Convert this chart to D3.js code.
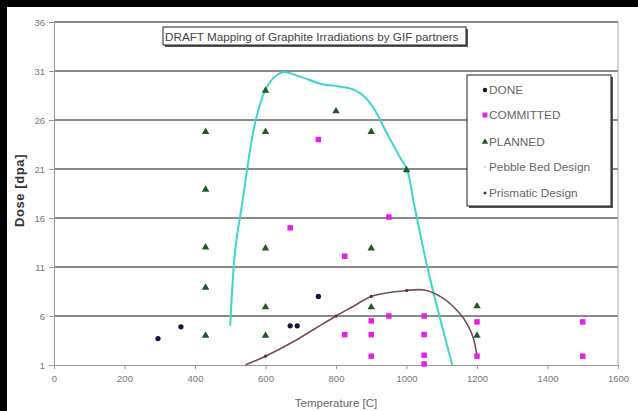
<!DOCTYPE html>
<html>
<head>
<meta charset="utf-8">
<script src="https://cdn.jsdelivr.net/npm/d3@7"></script>
<style>
    body { margin: 0; background: #fff; }
    text { font-family: "Liberation Sans", Arial, sans-serif; }
</style>
</head>
<body>
<div class="curr-graff"></div>
<script>
// Irradiation points, temperature [C] and dose [dpa]
const doneTemp = [295, 360, 670, 690, 750];
const doneDose = [3.7, 4.9, 5.0, 5.0, 8.0];

const committedTemp = [750, 670, 825, 950, 825, 900, 900, 900, 950, 1050, 1050, 1050, 1050, 1200, 1200, 1500, 1500];
const committedDose = [24, 15, 12.1, 16.1, 4.1, 5.5, 4.1, 1.9, 6, 6, 4.1, 2, 1.1, 5.4, 1.9, 5.4, 1.9];

const plannedTemp = [430, 430, 430, 430, 430, 600, 600, 600, 600, 600, 800, 900, 900, 900, 1000, 1200, 1200];
const plannedDose = [24.8, 18.9, 13, 8.9, 4, 29, 24.8, 12.9, 6.9, 4, 26.9, 24.8, 12.9, 6.9, 20.9, 7, 4];

// Design envelopes
const pebbleTemp = [500, 514, 533, 571, 600, 623, 651, 700, 756, 812, 850, 880, 907, 945, 983, 1002, 1021, 1059, 1087, 1130];
const pebbleDose = [5.0, 12.7, 17.3, 25.8, 29.1, 30.3, 30.9, 30.4, 29.7, 29.4, 29.1, 28.4, 27.2, 24.6, 22.1, 20.9, 17.5, 11.0, 6.9, 1.0];

const prismTemp = [543, 600, 680, 740, 800, 850, 900, 1000, 1050, 1100, 1150, 1175, 1190, 1200];
const prismDose = [1.0, 1.9, 3.4, 4.7, 6.0, 7.0, 8.0, 8.6, 8.65, 7.9, 6.3, 5.0, 3.7, 1.9];

// Axis ticks
const xTicks = [0, 200, 400, 600, 800, 1000, 1200, 1400, 1600];
const yTicks = [1, 6, 11, 16, 21, 26, 31, 36];

const legendNames = ["DONE", "COMMITTED", "PLANNED", "Pebble Bed Design", "Prismatic Design"];

const titleText = "DRAFT Mapping of Graphite Irradiations by GIF partners";

// Zips two arrays into a list of points
function MakePoints(arrX, arrY) {
    let out = [];
    for (let i = 0; i < arrX.length; i++) {
        out.push({ t: arrX[i], d: arrY[i] });
    }
    return out;
}

// Draws a white box with a dark drop shadow
function DrawShadowBox(svg, x, y, w, h) {
    svg.append("rect")
        .attr("x", x + 2).attr("y", y + 2)
        .attr("width", w).attr("height", h)
        .attr("fill", "#555");
    svg.append("rect")
        .attr("x", x).attr("y", y)
        .attr("width", w).attr("height", h)
        .attr("fill", "#fff")
        .attr("stroke", "#222")
        .attr("stroke-width", 1);
}

function DrawChart() {
    let width = 638;
    let height = 411;

    let svg = d3.select(".curr-graff")
        .append("svg")
        .attr("width", width)
        .attr("height", height);

    // Outer frame (black bands on top and left)
    svg.append("rect").attr("x", 0).attr("y", 0).attr("width", width).attr("height", 7).attr("fill", "#000");
    svg.append("rect").attr("x", 0).attr("y", 0).attr("width", 7).attr("height", height).attr("fill", "#000");

    let scaleX = d3.scaleLinear().domain([0, 1600]).range([54, 618]);
    let scaleY = d3.scaleLinear().domain([1, 36]).range([365, 22]);

    // Horizontal gridlines
    svg.append("g")
        .selectAll("line")
        .data(yTicks.slice(1))
        .enter().append("line")
        .attr("x1", scaleX(0)).attr("x2", scaleX(1600))
        .attr("y1", d => scaleY(d)).attr("y2", d => scaleY(d))
        .attr("stroke", "#8a8a8a")
        .attr("stroke-width", 1.8);

    // Right edge of plot area
    svg.append("line")
        .attr("x1", scaleX(1600)).attr("x2", scaleX(1600))
        .attr("y1", scaleY(36)).attr("y2", scaleY(1))
        .attr("stroke", "#aaa");

    // Axes
    let axisX = d3.axisBottom(scaleX).tickValues(xTicks).tickFormat(d3.format("d")).tickSize(4).tickPadding(6);
    let axisY = d3.axisLeft(scaleY).tickValues(yTicks).tickFormat(d3.format("d")).tickSize(5).tickPadding(4);

    let gx = svg.append("g")
        .attr("transform", `translate(0, ${scaleY(1)})`)
        .call(axisX);
    let gy = svg.append("g")
        .attr("transform", `translate(${scaleX(0)}, 0)`)
        .call(axisY);

    [gx, gy].forEach(function(g) {
        g.select(".domain").attr("stroke", "#999");
        g.selectAll(".tick line").attr("stroke", "#999");
        g.selectAll(".tick text")
            .attr("fill", "#777")
            .style("font-size", "9.5px")
            .style("font-family", "'Liberation Sans', Arial, sans-serif");
    });

    // Axis titles
    svg.append("text")
        .attr("x", (scaleX(0) + scaleX(1600)) / 2)
        .attr("y", 407)
        .attr("text-anchor", "middle")
        .attr("fill", "#666")
        .style("font-size", "11.5px")
        .text("Temperature [C]");

    svg.append("text")
        .attr("transform", `translate(24, ${(scaleY(1) + scaleY(36)) / 2 - 3}) rotate(-90)`)
        .attr("text-anchor", "middle")
        .attr("fill", "#333")
        .style("font-size", "13px")
        .style("font-weight", "bold")
        .style("letter-spacing", "0.6px")
        .text("Dose [dpa]");

    // Design curves
    let line = d3.line()
        .x(d => scaleX(d.t))
        .y(d => scaleY(d.d))
        .curve(d3.curveCatmullRom.alpha(0.5));

    svg.append("path")
        .datum(MakePoints(pebbleTemp, pebbleDose))
        .attr("fill", "none")
        .attr("stroke", "#3ed6cb")
        .attr("stroke-width", 2)
        .attr("d", line);

    let prismPts = MakePoints(prismTemp, prismDose);
    svg.append("path")
        .datum(prismPts)
        .attr("fill", "none")
        .attr("stroke", "#7a4a64")
        .attr("stroke-width", 1.6)
        .attr("d", line);

    // small markers where the prismatic curve has data
    svg.append("g")
        .selectAll("circle")
        .data(prismPts.filter(p => p.t % 100 === 0 && p.t < 1100))
        .enter().append("circle")
        .attr("cx", d => scaleX(d.t))
        .attr("cy", d => scaleY(d.d))
        .attr("r", 1.6)
        .attr("fill", "#4a3040");

    // Scatter series
    let series = [
        { pts: MakePoints(doneTemp, doneDose), shape: d3.symbolCircle, size: 22, color: "#15153f" },
        { pts: MakePoints(committedTemp, committedDose), shape: d3.symbolSquare, size: 30, color: "#e61ee6" },
        { pts: MakePoints(plannedTemp, plannedDose), shape: d3.symbolTriangle, size: 24, color: "#1f5a24" }
    ];

    series.forEach(function(s) {
        svg.append("g")
            .selectAll("path")
            .data(s.pts)
            .enter().append("path")
            .attr("transform", d => `translate(${scaleX(d.t)}, ${scaleY(d.d)})`)
            .attr("d", d3.symbol().type(s.shape).size(s.size))
            .attr("fill", s.color);
    });

    // Title box
    DrawShadowBox(svg, 163, 27, 303, 18);
    svg.append("text")
        .attr("x", 165)
        .attr("y", 40.5)
        .attr("fill", "#444")
        .style("font-size", "11.7px")
        .text(titleText);

    // Legend
    let lgX = 467, lgY = 75;
    DrawShadowBox(svg, lgX, lgY, 144, 131);

    let rowY = [15, 40, 67, 92, 118];
    let lg = svg.append("g").attr("transform", `translate(${lgX}, ${lgY})`);

    for (let i = 0; i < legendNames.length; i++) {
        if (i < 3) {
            lg.append("path")
                .attr("transform", `translate(18, ${rowY[i]})`)
                .attr("d", d3.symbol().type(series[i].shape).size(series[i].size - 6))
                .attr("fill", series[i].color);
        } else if (i == 3) {
            lg.append("circle").attr("cx", 18).attr("cy", rowY[i]).attr("r", 1.5).attr("fill", "#bfeeee");
        } else {
            lg.append("circle").attr("cx", 18).attr("cy", rowY[i]).attr("r", 1.5).attr("fill", "#4a3040");
        }

        lg.append("text")
            .attr("x", 22)
            .attr("y", rowY[i])
            .attr("dy", "0.36em")
            .attr("fill", "#666")
            .style("font-size", "11.8px")
            .text(legendNames[i]);
    }
}

DrawChart();
</script>
</body>
</html>
